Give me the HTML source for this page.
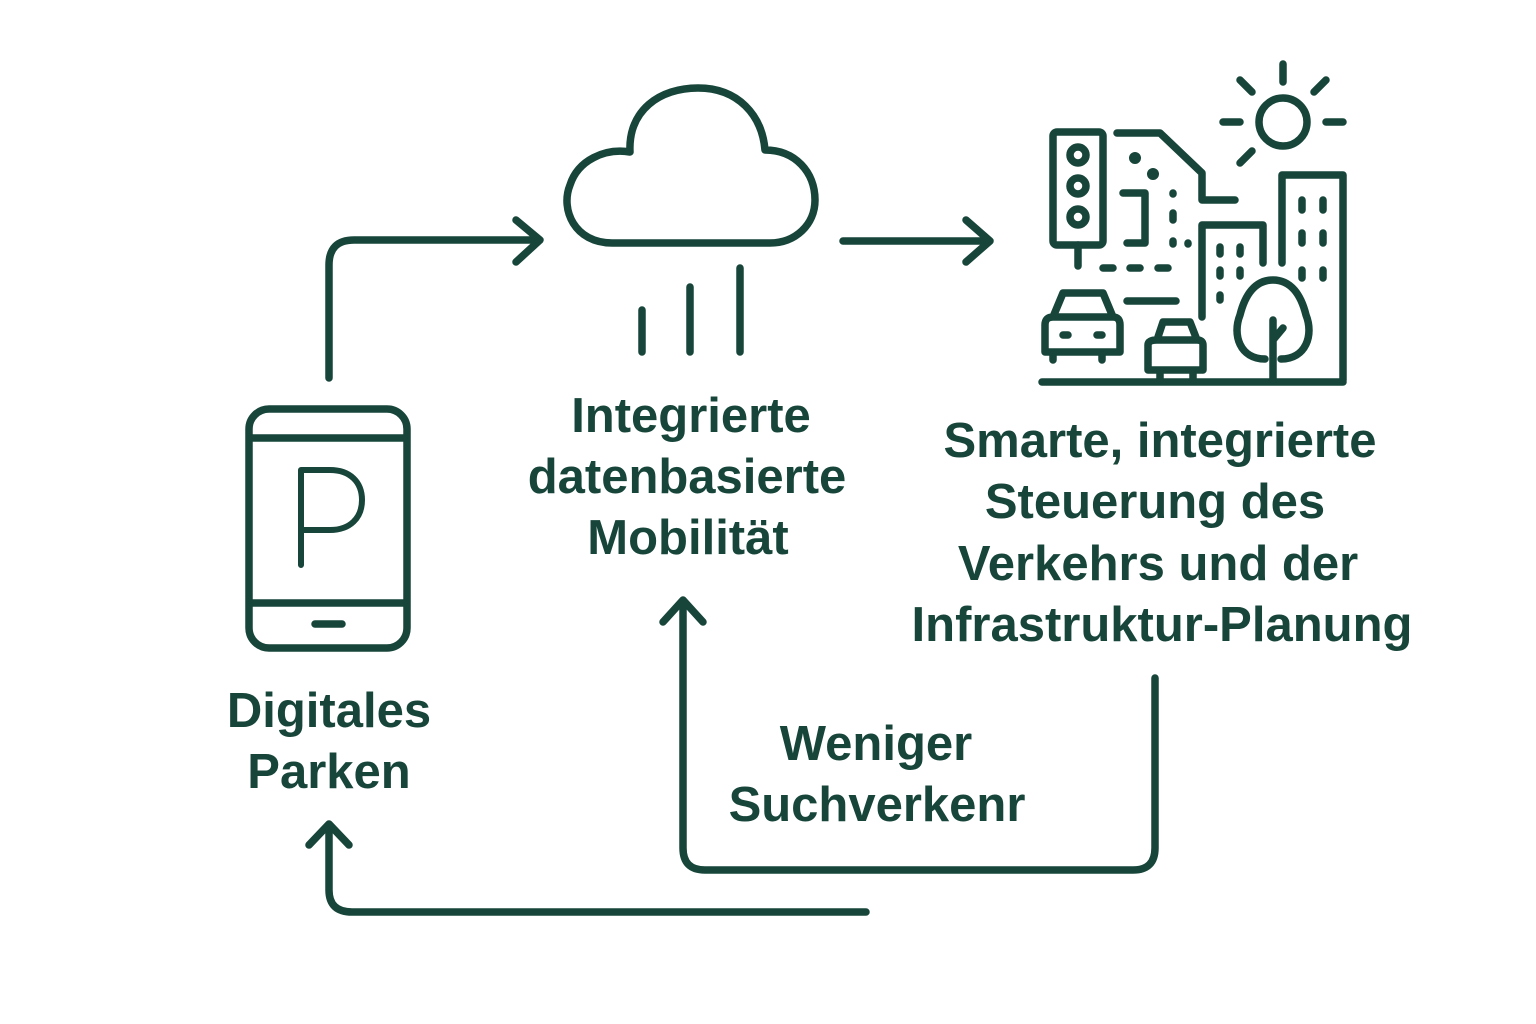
<!DOCTYPE html>
<html><head><meta charset="utf-8"><style>
html,body{margin:0;padding:0;background:#fff}
svg{display:block}
text{font-family:"Liberation Sans",sans-serif;font-weight:bold;fill:#17453a;text-anchor:middle;font-size:49px}
</style></head><body>
<svg width="1536" height="1024" viewBox="0 0 1536 1024">
<g fill="none" stroke="#17453a" stroke-width="7.5" stroke-linecap="round" stroke-linejoin="round">
<path d="M612,243 C575,243 560,210 570,185 C578,160 605,148 630,152 C628,110 660,88 698,88 C738,88 762,115 765,150 C795,150 815,172 815,200 C815,225 795,243 770,243 Z"/>
<path d="M642,310V352M690,287V352M740,268V352"/>
<rect x="249" y="409" width="158" height="239" rx="20"/>
<path d="M252,438H404M252,603H404M315,624H342"/>
<path d="M301,565V470H330C350,470 362,482 362,500C362,518 350,530 330,530H301" stroke-width="6"/>
<path d="M329,378V265Q329,240 354,240H538M516,220L540,240L516,262"/>
<path d="M843,241H988M966,220L990,241L966,262"/>
<path d="M1155,678V848Q1155,870 1133,870H705Q683,870 683,848V603M663,622L683,600L703,622"/>
<path d="M866,912H352Q329,912 329,890V826M309,845L329,824L349,845"/>
<rect x="1053" y="132" width="50" height="113" rx="4"/>
<circle cx="1078" cy="155" r="8"/><circle cx="1078" cy="186" r="8"/><circle cx="1078" cy="217" r="8"/>
<path d="M1078,245V266"/>
<path d="M1117,133H1160L1202,173V200H1235"/>
<circle cx="1135" cy="158" r="3" stroke-width="6"/><circle cx="1153" cy="174" r="3" stroke-width="6"/>
<path d="M1123,193H1145V243H1127"/>
<path d="M1173,193V194M1173,213V220M1173,241V244M1188,243V244"/>
<path d="M1103,268H1113M1130,268H1140M1158,268H1168M1127,301H1176"/>
<path d="M1202,317V225H1263V263"/>
<path d="M1220,247V254M1240,247V254M1220,270V276M1240,270V276M1220,295V300"/>
<path d="M1282,263V175H1343V380"/>
<path d="M1302,200V210M1323,200V210M1302,233V243M1323,233V243M1302,270V278M1323,270V278"/>
<path d="M1042,382H1343"/>
<circle cx="1283" cy="122" r="24"/>
<path d="M1283,64V82M1240,80L1252,92M1326,80L1314,92M1223,122H1240M1326,122H1343M1240,163L1252,151"/>
<path d="M1053,317L1063,293H1103L1113,317M1045,325Q1045,317 1053,317H1113Q1120,317 1120,325V352H1045Z"/>
<path d="M1053,355V360M1102,355V360M1063,335H1068M1097,335H1102"/>
<path d="M1157,340L1163,322H1190L1197,340M1148,345Q1148,340 1157,340H1197Q1203,340 1203,345V370H1148ZM1160,370V380M1193,370V380"/>
<path d="M1273,380V320M1273,340L1283,328M1265,359C1240,359 1232,335 1240,315C1245,295 1255,280 1273,280C1291,280 1301,295 1306,315C1314,335 1306,359 1281,359"/>
</g>
<text x="691" y="432">Integrierte</text>
<text x="687" y="493">datenbasierte</text>
<text x="688" y="554">Mobilität</text>
<text x="1160" y="457">Smarte, integrierte</text>
<text x="1155" y="518">Steuerung des</text>
<text x="1158" y="580">Verkehrs und der</text>
<text x="1162" y="641">Infrastruktur-Planung</text>
<text x="329" y="727">Digitales</text>
<text x="329" y="788">Parken</text>
<text x="876" y="760">Weniger</text>
<text x="877" y="821">Suchverkenr</text>
</svg>
</body></html>
